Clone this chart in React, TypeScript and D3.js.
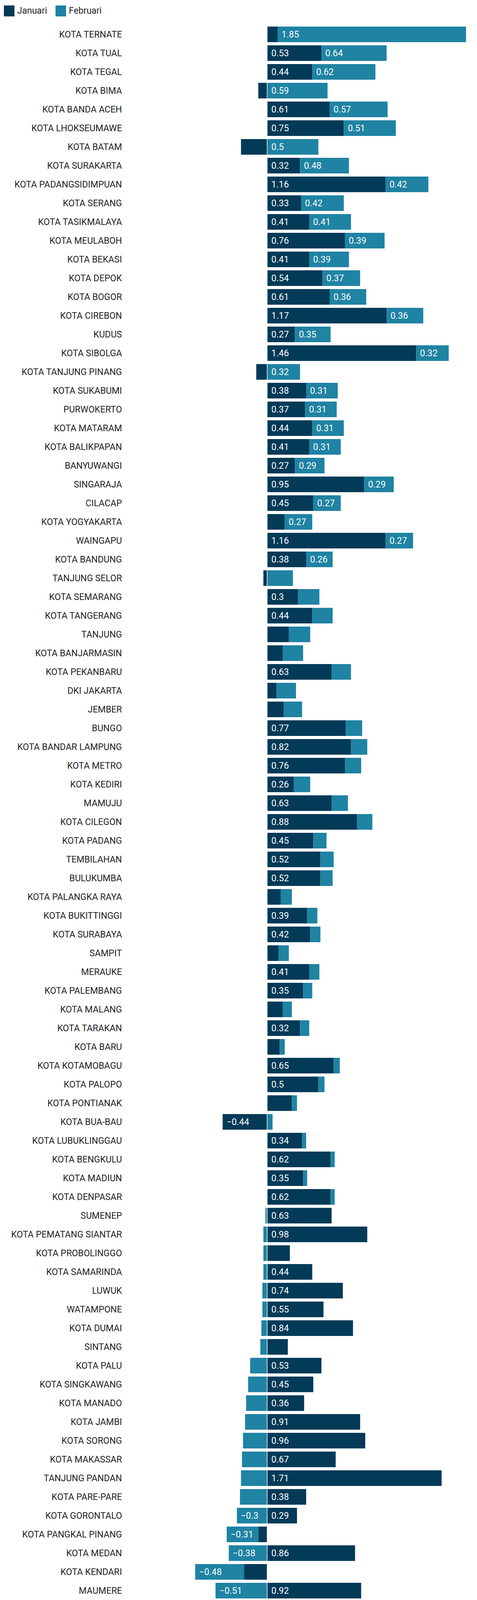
import { useEffect, useRef } from 'react'
import * as d3 from 'd3'

const cities = [
	'KOTA TERNATE', 'KOTA TUAL', 'KOTA TEGAL', 'KOTA BIMA', 'KOTA BANDA ACEH',
	'KOTA LHOKSEUMAWE', 'KOTA BATAM', 'KOTA SURAKARTA', 'KOTA PADANGSIDIMPUAN', 'KOTA SERANG',
	'KOTA TASIKMALAYA', 'KOTA MEULABOH', 'KOTA BEKASI', 'KOTA DEPOK', 'KOTA BOGOR',
	'KOTA CIREBON', 'KUDUS', 'KOTA SIBOLGA', 'KOTA TANJUNG PINANG', 'KOTA SUKABUMI',
	'PURWOKERTO', 'KOTA MATARAM', 'KOTA BALIKPAPAN', 'BANYUWANGI', 'SINGARAJA',
	'CILACAP', 'KOTA YOGYAKARTA', 'WAINGAPU', 'KOTA BANDUNG', 'TANJUNG SELOR',
	'KOTA SEMARANG', 'KOTA TANGERANG', 'TANJUNG', 'KOTA BANJARMASIN', 'KOTA PEKANBARU',
	'DKI JAKARTA', 'JEMBER', 'BUNGO', 'KOTA BANDAR LAMPUNG', 'KOTA METRO',
	'KOTA KEDIRI', 'MAMUJU', 'KOTA CILEGON', 'KOTA PADANG', 'TEMBILAHAN',
	'BULUKUMBA', 'KOTA PALANGKA RAYA', 'KOTA BUKITTINGGI', 'KOTA SURABAYA', 'SAMPIT',
	'MERAUKE', 'KOTA PALEMBANG', 'KOTA MALANG', 'KOTA TARAKAN', 'KOTA BARU',
	'KOTA KOTAMOBAGU', 'KOTA PALOPO', 'KOTA PONTIANAK', 'KOTA BUA-BAU', 'KOTA LUBUKLINGGAU',
	'KOTA BENGKULU', 'KOTA MADIUN', 'KOTA DENPASAR', 'SUMENEP', 'KOTA PEMATANG SIANTAR',
	'KOTA PROBOLINGGO', 'KOTA SAMARINDA', 'LUWUK', 'WATAMPONE', 'KOTA DUMAI',
	'SINTANG', 'KOTA PALU', 'KOTA SINGKAWANG', 'KOTA MANADO', 'KOTA JAMBI',
	'KOTA SORONG', 'KOTA MAKASSAR', 'TANJUNG PANDAN', 'KOTA PARE-PARE', 'KOTA GORONTALO',
	'KOTA PANGKAL PINANG', 'KOTA MEDAN', 'KOTA KENDARI', 'MAUMERE', 'TIMIKA',
	'KOTA AMBON', 'MANOKWARI', 'KOTA KUPANG', 'KOTA JAYAPURA', 'KOTA GUNUNGSITOLI',
]

const januari = [
	0.1, 0.53, 0.44, -0.09, 0.61, 0.75, -0.26, 0.32, 1.16, 0.33,
	0.41, 0.76, 0.41, 0.54, 0.61, 1.17, 0.27, 1.46, -0.11, 0.38,
	0.37, 0.44, 0.41, 0.27, 0.95, 0.45, 0.17, 1.16, 0.38, -0.04,
	0.3, 0.44, 0.21, 0.15, 0.63, 0.09, 0.16, 0.77, 0.82, 0.76,
	0.26, 0.63, 0.88, 0.45, 0.52, 0.52, 0.13, 0.39, 0.42, 0.11,
	0.41, 0.35, 0.15, 0.32, 0.12, 0.65, 0.5, 0.24, -0.44, 0.34,
	0.62, 0.35, 0.62, 0.63, 0.98, 0.22, 0.44, 0.74, 0.55, 0.84,
	0.2, 0.53, 0.45, 0.36, 0.91, 0.96, 0.67, 1.71, 0.38, 0.29,
	-0.09, 0.86, -0.23, 0.92, -0.6, -0.21, 0.03, 1, -0.55, 1.87,
]

const februari = [
	1.85, 0.64, 0.62, 0.59, 0.57, 0.51, 0.5, 0.48, 0.42, 0.42,
	0.41, 0.39, 0.39, 0.37, 0.36, 0.36, 0.35, 0.32, 0.32, 0.31,
	0.31, 0.31, 0.31, 0.29, 0.29, 0.27, 0.27, 0.27, 0.26, 0.25,
	0.21, 0.2, 0.21, 0.2, 0.19, 0.19, 0.18, 0.16, 0.16, 0.16,
	0.16, 0.16, 0.15, 0.13, 0.13, 0.12, 0.11, 0.1, 0.1, 0.1,
	0.1, 0.09, 0.09, 0.09, 0.05, 0.06, 0.06, 0.05, 0.05, 0.04,
	0.04, 0.04, 0.04, -0.02, -0.04, -0.04, -0.04, -0.05, -0.05, -0.06,
	-0.07, -0.17, -0.19, -0.21, -0.22, -0.24, -0.25, -0.26, -0.27, -0.3,
	-0.31, -0.38, -0.48, -0.51, -0.59, -0.61, -0.73, -0.77, -0.84, -0.98,
]

const seriesNames = ['Januari', 'Februari']
const colors = ['#033a57', '#1f83a3']

const W = 1220
const H = 4458
const FONT = 'Roboto, "Noto Sans", sans-serif'
const FS = 23

// rough Roboto advance widths, used to decide whether a value fits in its bar
const textWidth = (s: string) =>
	s.split('').reduce((acc, ch) => {
		if (ch === '.') return acc + 0.263
		if (ch === '\u2212') return acc + 0.568
		return acc + 0.5615
	}, 0) * FS

const fmt = (v: number) => String(v).replace('-', '\u2212')

export default function App() {
	const ref = useRef<SVGSVGElement>(null)

	useEffect(() => {
		document.body.style.margin = '0'
		const svg = d3.select(ref.current)
		svg.selectAll('*').remove()

		const rows = cities.map((c, i) => ({ city: c, Januari: januari[i], Februari: februari[i] }))
		const stack = d3.stack<any>().keys(seriesNames).offset(d3.stackOffsetDiverging)
		const series = stack(rows)

		const xMin = d3.min(series, (s) => d3.min(s, (d) => d[0])) as number
		const xMax = d3.max(series, (s) => d3.max(s, (d) => d[1])) as number

		const x = d3.scaleLinear().domain([xMin, xMax]).range([322, 1192])
		const y = d3
			.scaleBand()
			.domain(cities)
			.range([64, 64 + cities.length * 48])
			.paddingInner(1 / 6)
			.paddingOuter(1 / 12)

		svg.append('rect').attr('width', W).attr('height', H).attr('fill', '#fff')

		// legend
		const legend = svg.append('g')
		const legendX = [10, 142]
		seriesNames.forEach((name, i) => {
			legend
				.append('rect')
				.attr('x', legendX[i])
				.attr('y', 14)
				.attr('width', 27)
				.attr('height', 28)
				.attr('fill', colors[i])
			legend
				.append('text')
				.attr('x', legendX[i] + 34)
				.attr('y', 35)
				.style('font', `${FS}px ${FONT}`)
				.attr('fill', '#222')
				.text(name)
		})

		// row labels
		svg
			.append('g')
			.selectAll('text')
			.data(cities)
			.enter()
			.append('text')
			.attr('x', 312)
			.attr('y', (d) => (y(d) as number) + y.bandwidth() / 2)
			.attr('dy', '0.35em')
			.attr('text-anchor', 'end')
			.style('font', `${FS}px ${FONT}`)
			.attr('fill', '#222')
			.text((d) => d)

		series.forEach((s, si) => {
			const g = svg.append('g')
			g.selectAll('rect')
				.data(s)
				.enter()
				.append('rect')
				.attr('x', (d) => x(d[0]))
				.attr('y', (d) => y(d.data.city) as number)
				.attr('height', y.bandwidth())
				.attr('width', (d) => {
					const w = x(d[1]) - x(d[0])
					// little gap where a negative bar meets the zero line
					return d[1] === 0 && d[0] < 0 ? Math.max(0, w - 1.5) : w
				})
				.attr('fill', colors[si])

			g.selectAll('text')
				.data(s.filter((d) => {
					const v = d.data[seriesNames[si]]
					const w = Math.abs(x(d[1]) - x(d[0]))
					return textWidth(fmt(v)) + 21.5 <= w
				}))
				.enter()
				.append('text')
				.attr('x', (d) => x(d[0]) + 10)
				.attr('y', (d) => (y(d.data.city) as number) + y.bandwidth() / 2)
				.attr('dy', '0.35em')
				.style('font', `${FS}px ${FONT}`)
				.attr('fill', '#fff')
				.text((d) => fmt(d.data[seriesNames[si]]))
		})

		svg
			.append('text')
			.attr('x', 10)
			.attr('y', 4439)
			.style('font', `21px ${FONT}`)
			.attr('fill', '#888')
			.text('Created with Datawrapper')
	})

	return <svg ref={ref} width={W} height={H} style={{ display: 'block' }} />
}
